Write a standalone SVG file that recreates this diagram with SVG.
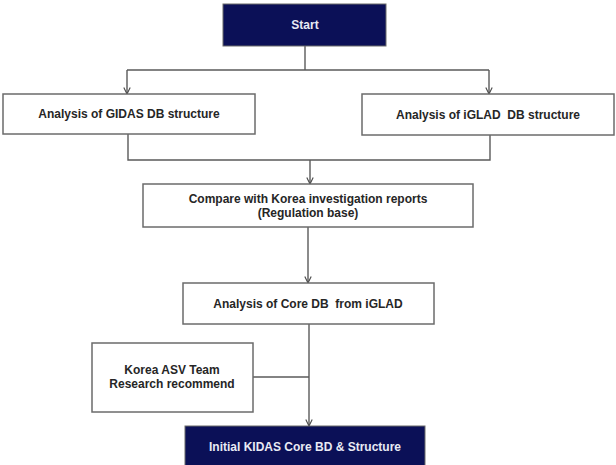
<svg xmlns="http://www.w3.org/2000/svg" width="616" height="465" viewBox="0 0 616 465">
  <style>
    .box { fill: #ffffff; stroke: #6b6b6b; stroke-width: 1.5; }
    .dark { fill: #0b1057; stroke: #6b6b6b; stroke-width: 1; }
    .lbl { font-family: "Liberation Sans", Arial, sans-serif; font-weight: bold; font-size: 12px; fill: #262626; text-anchor: middle; white-space: pre; }
    .lbl-w { font-family: "Liberation Sans", Arial, sans-serif; font-weight: bold; font-size: 12px; fill: #e8eaf4; text-anchor: middle; white-space: pre; }
    .wire { fill: none; stroke: #5a5a5a; stroke-width: 1.4; }
  </style>
  <defs>
    <marker id="arr" viewBox="0 0 10 10" refX="9" refY="5" markerWidth="8" markerHeight="8" markerUnits="userSpaceOnUse" orient="auto">
      <path d="M1,1 L9,5 L1,9" fill="none" stroke="#4a4a4a" stroke-width="1.4"/>
    </marker>
  </defs>
  <rect width="616" height="465" fill="#ffffff"/>

  <g id="connectors">
    <path class="wire" d="M305,46 V70"/>
    <path class="wire" d="M127,70 H489"/>
    <path class="wire" d="M127,70 V94" marker-end="url(#arr)"/>
    <path class="wire" d="M489,70 V94" marker-end="url(#arr)"/>
    <path class="wire" d="M128,133 V160 H490 V135"/>
    <path class="wire" d="M310,160 V184" marker-end="url(#arr)"/>
    <path class="wire" d="M308,227 V283" marker-end="url(#arr)"/>
    <path class="wire" d="M309,324 V426" marker-end="url(#arr)"/>
    <path class="wire" d="M253,377 H309"/>
  </g>

  <g id="start">
    <rect class="dark" x="223" y="4" width="163" height="42"/>
    <text class="lbl-w" x="305" y="29">Start</text>
  </g>

  <g id="gidas">
    <rect class="box" x="3" y="94" width="252" height="40"/>
    <text class="lbl" x="129" y="118">Analysis of GIDAS DB structure</text>
  </g>

  <g id="iglad">
    <rect class="box" x="362" y="94" width="252" height="41"/>
    <text class="lbl" x="488" y="119" xml:space="preserve">Analysis of iGLAD  DB structure</text>
  </g>

  <g id="compare">
    <rect class="box" x="143" y="184" width="330" height="43"/>
    <text class="lbl" x="308" y="203">Compare with Korea investigation reports</text>
    <text class="lbl" x="308" y="217">(Regulation base)</text>
  </g>

  <g id="core">
    <rect class="box" x="183" y="283" width="251" height="41"/>
    <text class="lbl" x="308" y="308" xml:space="preserve">Analysis of Core DB  from iGLAD</text>
  </g>

  <g id="asv">
    <rect class="box" x="92" y="343" width="161" height="69"/>
    <text class="lbl" x="172" y="374">Korea ASV Team</text>
    <text class="lbl" x="172" y="388">Research recommend</text>
  </g>

  <g id="initial">
    <rect class="dark" x="185" y="426" width="240" height="45"/>
    <text class="lbl-w" x="305" y="451">Initial KIDAS Core BD &amp; Structure</text>
  </g>
</svg>
